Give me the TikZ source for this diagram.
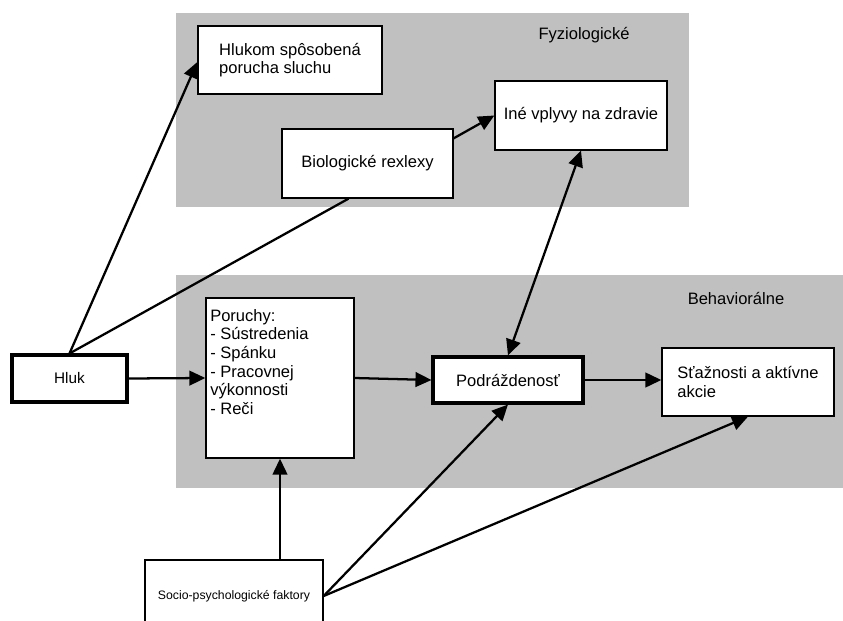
\documentclass[tikz,border=0pt]{standalone}
\usepackage{fontspec}
\setmainfont{Liberation Sans}
\usetikzlibrary{arrows.meta,calc}
\definecolor{panel}{RGB}{192,192,192}
\tikzset{
  bx/.style={draw=black, fill=white, line width=1pt, inner sep=0pt, align=left,
    font=\fontsize{12.4}{14}\selectfont},
  thickbx/.style={bx, line width=2.3pt},
  lbl/.style={inner sep=0pt, font=\fontsize{12.4}{14}\selectfont},
  conn/.style={line width=1.7pt, -{Triangle[length=12pt,width=11pt]}},
  plain/.style={line width=1.7pt},
  both/.style={line width=1.7pt, {Triangle[length=12pt,width=11pt]}-{Triangle[length=12pt,width=11pt]}}
}
\begin{document}
\begin{tikzpicture}[x=0.75pt,y=-0.75pt]
\useasboundingbox (0,0) rectangle (843,621);
\fill[white] (0,0) rectangle (843,621);
% panels
\fill[panel] (176,13) rectangle (689,207);
\fill[panel] (176,275) rectangle (843,488);
\node[lbl] (fyz) at (584,35) {Fyziologické};
\node[lbl] (beh) at (736,298) {Behaviorálne};
% boxes
\node[bx, minimum width=138pt, minimum height=51pt] (hlukom) at (290,60) {Hlukom spôsobená\\porucha sluchu};
\node[bx, minimum width=129pt, minimum height=51.75pt] (ine) at (581,115.5) {Iné vplyvy na zdravie};
\node[bx, minimum width=128.25pt, minimum height=51.75pt] (bio) at (367.5,163.5) {Biologické rexlexy};
\node[thickbx, minimum width=86.25pt, minimum height=35.25pt, font=\fontsize{11.5}{13}\selectfont] (hluk) at (69.5,378.5) {Hluk};
\node[bx, minimum width=111pt, minimum height=120pt] (por) at (280,378) {};
\node[lbl, anchor=north west, align=left] (portxt) at (210,309) {Poruchy:\\- Sústredenia\\- Spánku\\- Pracovnej\\výkonnosti\\- Reči};
\node[thickbx, minimum width=112.5pt, minimum height=34.5pt] (podr) at (508,380) {Podráždenosť};
\node[bx, minimum width=129pt, minimum height=51pt] (staz) at (748,382) {Sťažnosti a aktívne\\akcie};
\node[bx, minimum width=133.5pt, minimum height=54pt, font=\fontsize{9.2}{11}\selectfont] (socio) at (234,596) {Socio-psychologické faktory};
% connectors
\draw[conn] (hluk.north) -- ($(hlukom.west)+(0,2)$);
\draw[plain] (hluk.north) -- ($(bio.south)+(-19,0)$);
\draw[conn] ($(bio.north east)+(0,10)$) -- (ine.west);
\draw[both] (ine.south) -- (podr.north);
\draw[conn] (hluk.east) -- (por.west);
\draw[conn] (por.east) -- (podr.west);
\draw[conn] (podr.east) -- (staz.west |- podr.east);
\draw[conn] (por.south |- socio.north) -- (por.south);
\draw[conn] (socio.east) -- (podr.south);
\draw[conn] (socio.east) -- (staz.south);
\end{tikzpicture}
\end{document}
